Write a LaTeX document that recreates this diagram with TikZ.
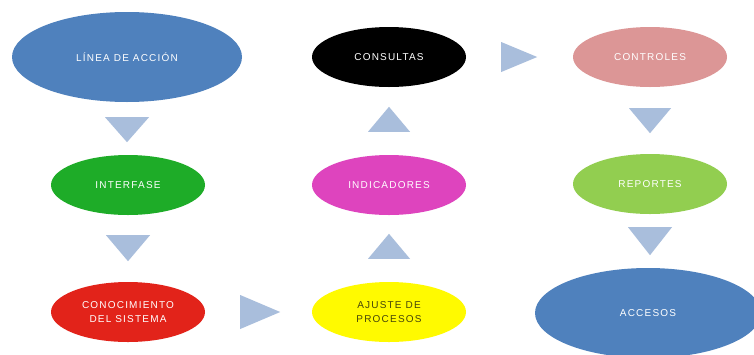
\documentclass[tikz,border=0pt]{standalone}
\usepackage{fontspec}
\setmainfont{Liberation Sans}
\usetikzlibrary{shapes.geometric,calc}
\definecolor{cblue}{RGB}{79,129,189}
\definecolor{cgreen}{RGB}{30,172,40}
\definecolor{cred}{RGB}{226,35,26}
\definecolor{cmag}{RGB}{222,68,190}
\definecolor{cyel}{RGB}{255,250,0}
\definecolor{clgreen}{RGB}{146,206,80}
\definecolor{cpink}{RGB}{220,150,150}
\definecolor{carrow}{RGB}{169,190,220}
\definecolor{ctxtdark}{RGB}{70,70,10}
\newfontfamily\lblfont[LetterSpace=12]{Liberation Sans}
\tikzset{
  blob/.style={ellipse, inner sep=0pt, minimum width=154pt, minimum height=60pt,
    text=white, align=center,
    font=\lblfont\fontsize{10}{14.5}\selectfont},
  bigblob/.style={blob, minimum width=230pt, minimum height=90pt},
  arrowfill/.style={fill=carrow, draw=none}
}
\begin{document}
\begin{tikzpicture}[x=1pt,y=-1pt]
\useasboundingbox (0,0) rectangle (754,354);
\clip (0,0) rectangle (754,354);
\fill[white] (0,0) rectangle (754,354);
% nodes
\node[bigblob, fill=cblue] (linea) at (127,57) {LÍNEA DE ACCIÓN};
\node[blob, fill=black] (consultas) at (389,57) {CONSULTAS};
\node[blob, fill=cpink] (controles) at (650,57) {CONTROLES};
\node[blob, fill=cgreen] (interfase) at (128,185) {INTERFASE};
\node[blob, fill=cmag] (indicadores) at (389,185) {INDICADORES};
\node[blob, fill=clgreen] (reportes) at (650,184) {REPORTES};
\node[blob, fill=cred] (conoc) at (128,312) {CONOCIMIENTO\\DEL SISTEMA};
\node[blob, fill=cyel, text=ctxtdark] (ajuste) at (389,312) {AJUSTE DE\\PROCESOS};
\node[bigblob, minimum width=226pt, fill=cblue] (accesos) at (648,313) {ACCESOS};
% arrow triangles (down)
\fill[arrowfill] ($(linea.south)+(-22,15)$) -- ++(44,0) -- ++(-22,25) -- cycle;
\fill[arrowfill] ($(interfase.south)+(-22,20)$) -- ++(44,0) -- ++(-22,26) -- cycle;
\fill[arrowfill] ($(controles.south)+(-21,21)$) -- ++(42,0) -- ++(-21,25) -- cycle;
\fill[arrowfill] ($(reportes.south)+(-22,13)$) -- ++(44,0) -- ++(-22,28) -- cycle;
% arrow triangles (up)
\fill[arrowfill] ($(ajuste.north)+(-21,-23)$) -- ++(42,0) -- ++(-21,-25) -- cycle;
\fill[arrowfill] ($(indicadores.north)+(-21,-23)$) -- ++(42,0) -- ++(-21,-25) -- cycle;
% arrow triangles (right)
\fill[arrowfill] ($(conoc.east)+(35,-17)$) -- ++(0,34) -- ++(40,-17) -- cycle;
\fill[arrowfill] ($(consultas.east)+(35,-15)$) -- ++(0,30) -- ++(36,-15) -- cycle;
\end{tikzpicture}
\end{document}
